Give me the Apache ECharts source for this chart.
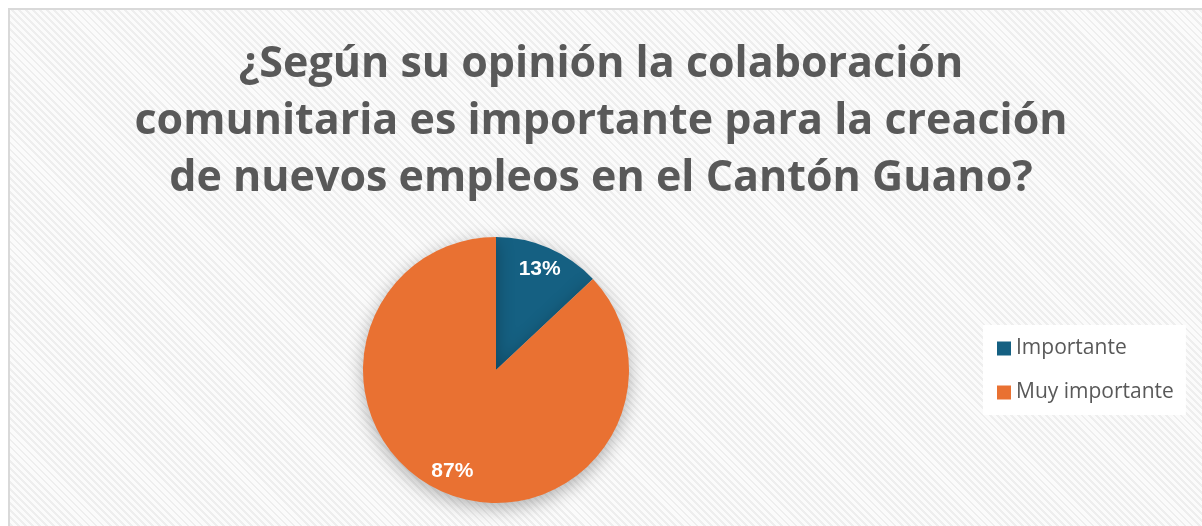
<!DOCTYPE html>
<html>
<head>
<meta charset="utf-8">
<script src="https://cdn.jsdelivr.net/npm/echarts@6/dist/echarts.min.js"></script>
<style>
  html, body { margin: 0; padding: 0; background: #ffffff; width: 1202px; height: 526px; overflow: hidden; }
  #bg { position: absolute; left: 8px; top: 8px; width: 1200px; height: 520px;
        border-left: 2px solid #d9d9d9; border-top: 2px solid #d9d9d9;
        background: repeating-linear-gradient(45deg, #fbfbfb 0px, #fbfbfb 3px, #eeeeee 3px, #eeeeee 5px); }
  #chart { position: absolute; left: 0; top: 0; width: 1202px; height: 526px; }
</style>
</head>
<body>
<div id="bg"></div>
<div id="chart"></div>
<script>
const titleText = "¿Según su opinión la colaboración\ncomunitaria es importante para la creación\nde nuevos empleos en el Cantón Guano?";
const categories = ["Importante", "Muy importante"];
const values = [13, 87];
const colors = ["#156082", "#E97132"];

const data = categories.map((c, i) => ({ name: c, value: values[i], itemStyle: { color: colors[i] } }));

const chart = echarts.init(document.getElementById('chart'), null, { renderer: 'canvas' });
chart.setOption({
  backgroundColor: 'transparent',
  animation: false,
  title: {
    text: titleText,
    left: 'center',
    top: 31,
    textStyle: { fontFamily: 'Open Sans', fontWeight: 'bold', fontSize: 43, lineHeight: 57, color: '#595959' }
  },
  legend: {
    orient: 'vertical',
    left: 983,
    top: 325,
    data: categories.map((c, i) => ({ name: c, itemStyle: { color: colors[i] } })),
    backgroundColor: '#ffffff',
    padding: [13, 12, 12, 14],
    itemWidth: 14,
    itemHeight: 14,
    itemGap: 23,
    icon: 'rect',
    textStyle: { fontFamily: 'Open Sans', fontSize: 21, color: '#595959' }
  },
  series: [
    {
      type: 'pie',
      center: [496, 370],
      radius: [0, 133],
      startAngle: 90,
      clockwise: true,
      data: data,
      label: { show: false },
      labelLine: { show: false },
      itemStyle: { shadowBlur: 18, shadowColor: 'rgba(0,0,0,0.3)', shadowOffsetY: 5 },
      emphasis: { disabled: true }
    },
    {
      type: 'pie',
      center: [496, 370],
      radius: [81, 133],
      startAngle: 90,
      clockwise: true,
      silent: true,
      data: categories.map((c, i) => ({ name: c, value: values[i], itemStyle: { color: 'rgba(0,0,0,0)' } })),
      label: { show: true, position: 'inside', formatter: '{d}%', color: '#ffffff', fontFamily: 'Liberation Sans', fontWeight: 'bold', fontSize: 21 },
      labelLine: { show: false },
      emphasis: { disabled: true }
    }
  ]
});
</script>
</body>
</html>
